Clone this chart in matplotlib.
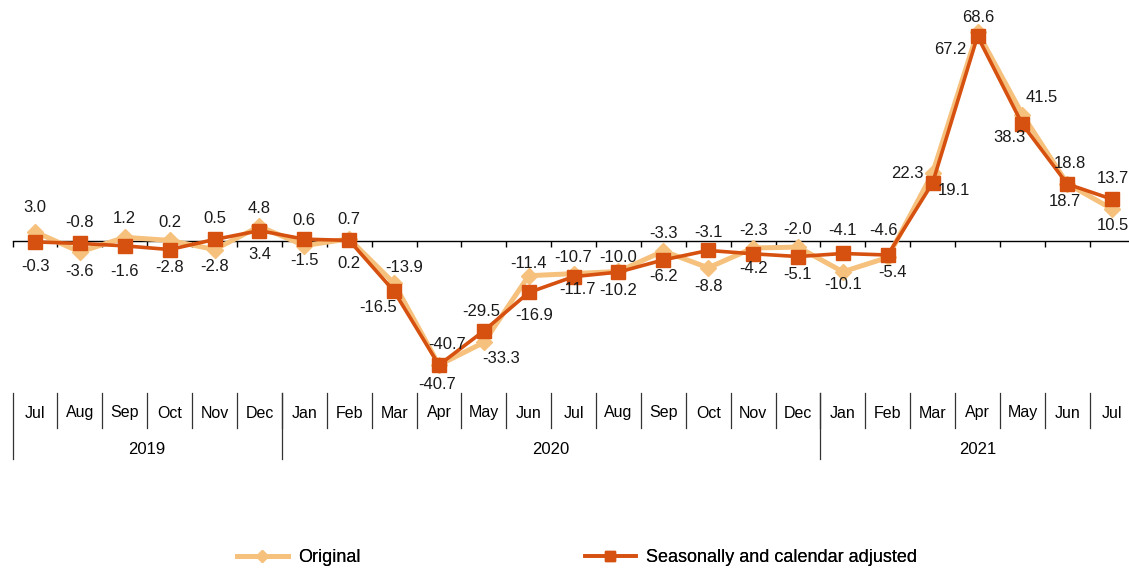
import matplotlib
matplotlib.use("Agg")
import matplotlib.pyplot as plt
from matplotlib.lines import Line2D
from matplotlib.transforms import blended_transform_factory

plt.rcParams['font.family'] = ['Liberation Sans', 'DejaVu Sans']

# dados
meses = ["Jul", "Aug", "Sep", "Oct", "Nov", "Dec",
         "Jan", "Feb", "Mar", "Apr", "May", "Jun", "Jul", "Aug", "Sep", "Oct", "Nov", "Dec",
         "Jan", "Feb", "Mar", "Apr", "May", "Jun", "Jul"]
anos = ["2019", "2020", "2021"]
meses_por_ano = [6, 12, 7]
original = [3.0, -3.6, 1.2, 0.2, -2.8, 4.8, -1.5, 0.7, -13.9, -40.7, -33.3, -11.4, -10.7,
            -10.0, -3.3, -8.8, -2.3, -2.0, -10.1, -5.4, 22.3, 68.6, 41.5, 18.8, 10.5]
ajustado = [-0.3, -0.8, -1.6, -2.8, 0.5, 3.4, 0.6, 0.2, -16.5, -40.7, -29.5, -16.9, -11.7,
            -10.2, -6.2, -3.1, -4.2, -5.1, -4.1, -4.6, 19.1, 67.2, 38.3, 18.7, 13.7]

# deslocamento dos rótulos (pixels, y para baixo)
off_orig = [(0, -24), (0, 20), (0, -19), (0, -18), (0, 17), (0, -18), (0, 15), (0, -19),
            (10, -16), (8, -21), (17, 16), (0, -12), (0, -16), (0, -14), (0, -18), (0, 19),
            (0, -18), (0, -18), (0, 13), (5, 15), (-25, 0), (1, -14), (19, -17), (3, -20), (1, 16)]
off_aj = [(0, 25), (0, -21), (0, 26), (0, 18), (0, -21), (0, 24), (0, -19), (0, 23),
          (-16, 16), (-2, 19), (-3, -19), (5, 23), (4, 13), (0, 18), (0, 17), (0, -18),
          (0, 15), (0, 18), (0, -23), (-4, -25), (21, 8), (-27, 13), (-13, 13), (-2, 17), (1, -21)]

cor_orig = "#F6C17D"
cor_aj = "#D6500F"

W, H = 1129, 570
fig = plt.figure(figsize=(W / 100, H / 100), dpi=100)
ax_left, ax_right = 12.6, 1134.6
ax_top, ax_bot = 5, 380
ax = fig.add_axes([ax_left / W, 1 - ax_bot / H, (ax_right - ax_left) / W, (ax_bot - ax_top) / H])

esc = 3.047  # px por unidade
ax.set_ylim(-(ax_bot - 241) / esc, (241 - ax_top) / esc)
ax.set_xlim(-0.5, len(meses) - 0.5)

x = list(range(len(meses)))
ax.plot(x, original, color=cor_orig, lw=3.6, marker="D", ms=8, zorder=3, label="Original")
ax.plot(x, ajustado, color=cor_aj, lw=2.6, marker="s", ms=9.5, zorder=4,
        label="Seasonally and calendar adjusted")

# rótulos
k = 72 / 100
for i in x:
    for v, (dx, dy) in ((original[i], off_orig[i]), (ajustado[i], off_aj[i])):
        ax.annotate(f"{v:.1f}", (i, v), xytext=(dx * k, -dy * k), textcoords="offset points",
                    ha="center", va="center", fontsize=12, color="#1a1a1a", zorder=5)

# eixo em zero
for s in ["top", "right", "left"]:
    ax.spines[s].set_visible(False)
ax.spines["bottom"].set_position(("data", 0))
ax.spines["bottom"].set_linewidth(1.0)
ax.set_yticks([])
ax.set_xticks([i - 0.5 for i in range(len(meses) + 1)])
ax.set_xticklabels([])
ax.tick_params(axis="x", direction="out", length=4.5, width=1.0)

# categorias
tr = blended_transform_factory(ax.transData, fig.transFigure)
fy = lambda p: 1 - p / H
for i, m in enumerate(meses):
    ax.text(i, fy(413), m, transform=tr, ha="center", va="center", fontsize=11.5, clip_on=False)
for i in range(1, len(meses)):
    fig.add_artist(Line2D([i - 0.5, i - 0.5], [fy(393), fy(428)], transform=tr, color="#333333", lw=0.9))
inicio = 0
for ano, n in zip(anos, meses_por_ano):
    fig.add_artist(Line2D([inicio - 0.5, inicio - 0.5], [fy(393), fy(459)], transform=tr,
                          color="#333333", lw=0.9))
    ax.text(inicio + (n - 1) / 2, fy(449), ano, transform=tr, ha="center", va="center",
            fontsize=12, clip_on=False)
    inicio += n

# legenda
h1, h2 = ax.get_lines()[:2]
for h, xp in ((h1, 237), (h2, 585)):
    leg = fig.legend(handles=[h], loc="center left", bbox_to_anchor=(xp / W, fy(558)),
                     frameon=False, borderpad=0, borderaxespad=0, handlelength=2.8,
                     handletextpad=0.6, fontsize=13, markerscale=0.75)
    fig.add_artist(leg)

fig.savefig("out.png", dpi=100)
